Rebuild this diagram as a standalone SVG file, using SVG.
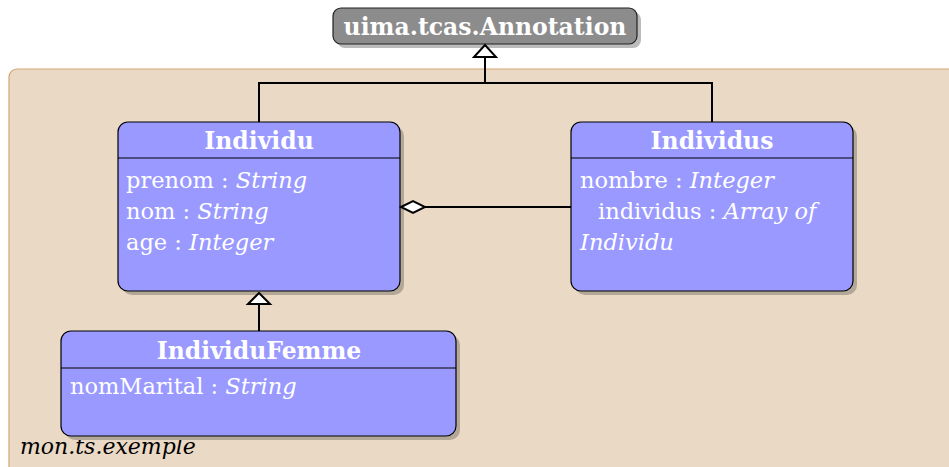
<svg xmlns="http://www.w3.org/2000/svg" width="949" height="467" viewBox="0 0 949 467">
<style>
.cls{fill:#9999ff;stroke:#000;stroke-width:1.2}
.shadow{fill:#b3a898}
.t{font-family:"DejaVu Serif","Liberation Serif",serif;fill:#fff;font-size:22.5px}
.title{font-weight:bold;text-anchor:middle;font-size:23.5px}
.i{font-style:italic}
.ln{stroke:#000;stroke-width:2;fill:none}
.sep{stroke:#000;stroke-width:1.2}
</style>
<rect x="9" y="69" width="960" height="420" rx="8" fill="#ead9c5" stroke="#d4a574" stroke-width="1.2"/>
<text x="20" y="454" font-family="DejaVu Serif,Liberation Serif,serif" font-style="italic" font-size="22" fill="#000">mon.ts.exemple</text>
<g id="annotation">
<rect x="337" y="12" width="304" height="36" rx="8" fill="#bbbbbb"/>
<rect x="333" y="8" width="304" height="36" rx="8" fill="#8c8c8c" stroke="#222" stroke-width="1.2"/>
<text x="485" y="35" class="t title">uima.tcas.Annotation</text>
</g>
<g id="Individu">
<rect x="122" y="126" width="282" height="169" rx="10" class="shadow"/>
<rect x="118" y="122" width="282" height="169" rx="10" class="cls"/>
<line x1="118" y1="158" x2="400" y2="158" class="sep"/>
<text x="259" y="149" class="t title">Individu</text>
<text x="126" y="188" class="t">prenom : <tspan class="i">String</tspan></text>
<text x="126" y="219" class="t">nom : <tspan class="i">String</tspan></text>
<text x="126" y="250" class="t">age : <tspan class="i">Integer</tspan></text>
</g>
<g id="Individus">
<rect x="575" y="126" width="282" height="169" rx="10" class="shadow"/>
<rect x="571" y="122" width="282" height="169" rx="10" class="cls"/>
<line x1="571" y1="158" x2="853" y2="158" class="sep"/>
<text x="712" y="149" class="t title">Individus</text>
<text x="580" y="188" class="t">nombre : <tspan class="i">Integer</tspan></text>
<text x="598" y="219" class="t">individus : <tspan class="i">Array of</tspan></text>
<text x="580" y="250" class="t i">Individu</text>
</g>
<g id="IndividuFemme">
<rect x="65" y="335" width="395" height="105" rx="10" class="shadow"/>
<rect x="61" y="331" width="395" height="105" rx="10" class="cls"/>
<line x1="61" y1="368" x2="456" y2="368" class="sep"/>
<text x="259" y="359" class="t title">IndividuFemme</text>
<text x="70" y="394" class="t">nomMarital : <tspan class="i">String</tspan></text>
</g>
<g id="connectors">
<polyline points="259,122 259,83 712,83 712,122" class="ln"/>
<line x1="485" y1="83" x2="485" y2="57" class="ln"/>
<polygon points="485,45 474,57 496,57" fill="#fff" stroke="#000" stroke-width="2"/>
<line x1="259" y1="331" x2="259" y2="304" class="ln"/>
<polygon points="259,293 248,304 270,304" fill="#fff" stroke="#000" stroke-width="2"/>
<line x1="425" y1="207" x2="571" y2="207" class="ln"/>
<polygon points="401,207 413,201 425,207 413,213" fill="#fff" stroke="#000" stroke-width="2"/>
</g>
</svg>
